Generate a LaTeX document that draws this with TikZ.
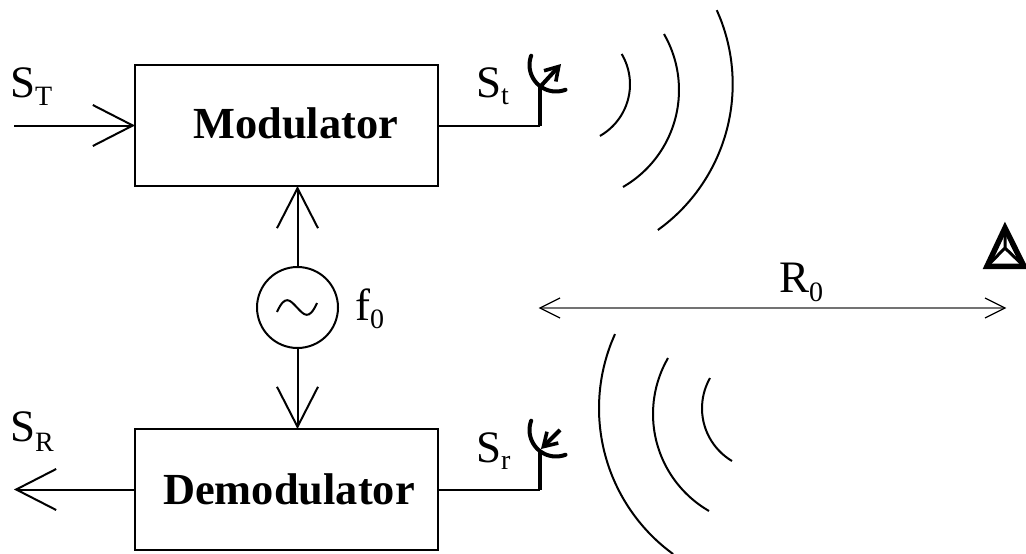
\documentclass[tikz,border=0pt]{standalone}
\usepackage{fontspec}
\setmainfont{Liberation Serif}
\usetikzlibrary{arrows.meta}
\newcommand\lbl[3][8]{{\fontsize{45}{45}\selectfont #2\raisebox{-#1pt}{\fontsize{28}{28}\selectfont #3}}}
\newcommand\circarc[6][wavearc]{%
  \draw[#1] plot[smooth,samples=24,domain=#5:#6,variable=\t] ({#2+#4*cos(\t)},{#3+#4*sin(\t)});}
\tikzset{
  blockbox/.style={draw=black,line width=2pt,minimum width=303pt,minimum height=121pt,inner sep=0pt,outer sep=0pt},
  blocktext/.style={anchor=base west,inner sep=0pt,font=\fontsize{44.4}{44.4}\selectfont\bfseries},
  sigtext/.style={anchor=base west,inner sep=0pt},
  link/.style={line width=2pt,line cap=butt},
  bigarrow/.style={link,-{Straight Barb[length=40pt,width=41pt,line width=2pt]}},
  wavearc/.style={line width=2pt},
  dish/.style={line width=4pt,line cap=round},
  feed/.style={line width=4pt},
  rangeline/.style={draw=black!55,line width=1.2pt},
  rangetip/.style={draw=black,line width=1.2pt},
  target/.style={line width=5.5pt,line join=miter,miter limit=10},
}
\begin{document}
\begin{tikzpicture}[x=1pt,y=-1pt]
\useasboundingbox (0,0) rectangle (1026,554);
\node[blockbox] (mod) at (286.5,125.5) {};
\node[blockbox] (dem) at (286.5,489.5) {};
\node[blocktext] (modt) at (193,138) {Modulator};
\node[blocktext] (demt) at (163,504) {Demodulator};
\node[draw=black,line width=2pt,circle,minimum size=81pt,inner sep=0pt,outer sep=0pt] (osc) at (297.5,307.5) {};
\draw[line width=2pt] (277,312) .. controls (285,294) and (290,300) .. (297,307.5) .. controls (304,315) and (309,321) .. (317,303);
\coordinate (in) at (14,125.5);
\coordinate (out) at (14,489.5);
\coordinate (a1) at (540,125.5);
\coordinate (a1t) at (540,85);
\coordinate (a1e) at (561,64);
\coordinate (a1s) at (540,87);
\coordinate (a2) at (540,489.5);
\coordinate (a2t) at (540,450);
\coordinate (a2s) at (560,430);
\coordinate (a2e) at (541,449);
\coordinate (r1) at (540,308);
\coordinate (r2) at (1005,308);
\draw[bigarrow] (in) -- (mod.west);
\draw[bigarrow] (dem.west) -- (out);
\draw[bigarrow] (osc.north) -- (osc.north |- mod.south);
\draw[bigarrow] (osc.south) -- (osc.south |- dem.north);
\draw[link] (mod.east) -- (a1);
\draw[link] (dem.east) -- (a2);
\draw[feed] (a1) -- (a1t);
\draw[feed] (a2) -- (a2t);
\draw[feed,-{Straight Barb[length=13pt,width=16pt,line width=3.6pt]}] (a1s) -- (a1e);
\draw[feed,-{Straight Barb[length=13pt,width=16pt,line width=3.6pt]}] (a2s) -- (a2e);
\circarc[dish]{556}{65}{26.5}{69}{200.6}
\circarc[dish]{556}{430}{26.5}{69}{200.6}
\draw[rangeline] (r1) -- (r2);
\draw[rangetip] (r1) ++(20,-10) -- (r1) -- ++(20,10);
\draw[rangetip] (r2) ++(-20,-10) -- (r2) -- ++(-20,10);
\circarc{570.6}{84.3}{59.4}{-30.7}{60.4}
\circarc{567}{90}{112}{-30}{60}
\circarc{553}{84.1}{179.7}{-24.3}{54.3}
\circarc{763.3}{408.3}{61.3}{120.7}{209.6}
\circarc{765}{414}{112}{120}{210}
\circarc{779.4}{408.3}{180.4}{126.1}{204.3}
\draw[target] (1005,228) -- (987,266.3) -- (1024,266.3) -- cycle;
\draw[line width=3pt] (1005,228) -- (1005,248) (987,266.3) -- (1005,248) -- (1024,266.3);
\node[sigtext] (st) at (10,97.5) {\lbl{S}{T}};
\node[sigtext] (sr) at (10,441.5) {\lbl[9.5]{S}{R}};
\node[sigtext] (stt) at (476,97) {\lbl[7]{S}{t}};
\node[sigtext] (srr) at (476,462) {\lbl[7]{S}{r}};
\node[sigtext] (f0) at (355,320) {\lbl{f}{0}};
\node[sigtext] (r0) at (779,292) {\lbl[9]{R}{0}};
\end{tikzpicture}
\end{document}
